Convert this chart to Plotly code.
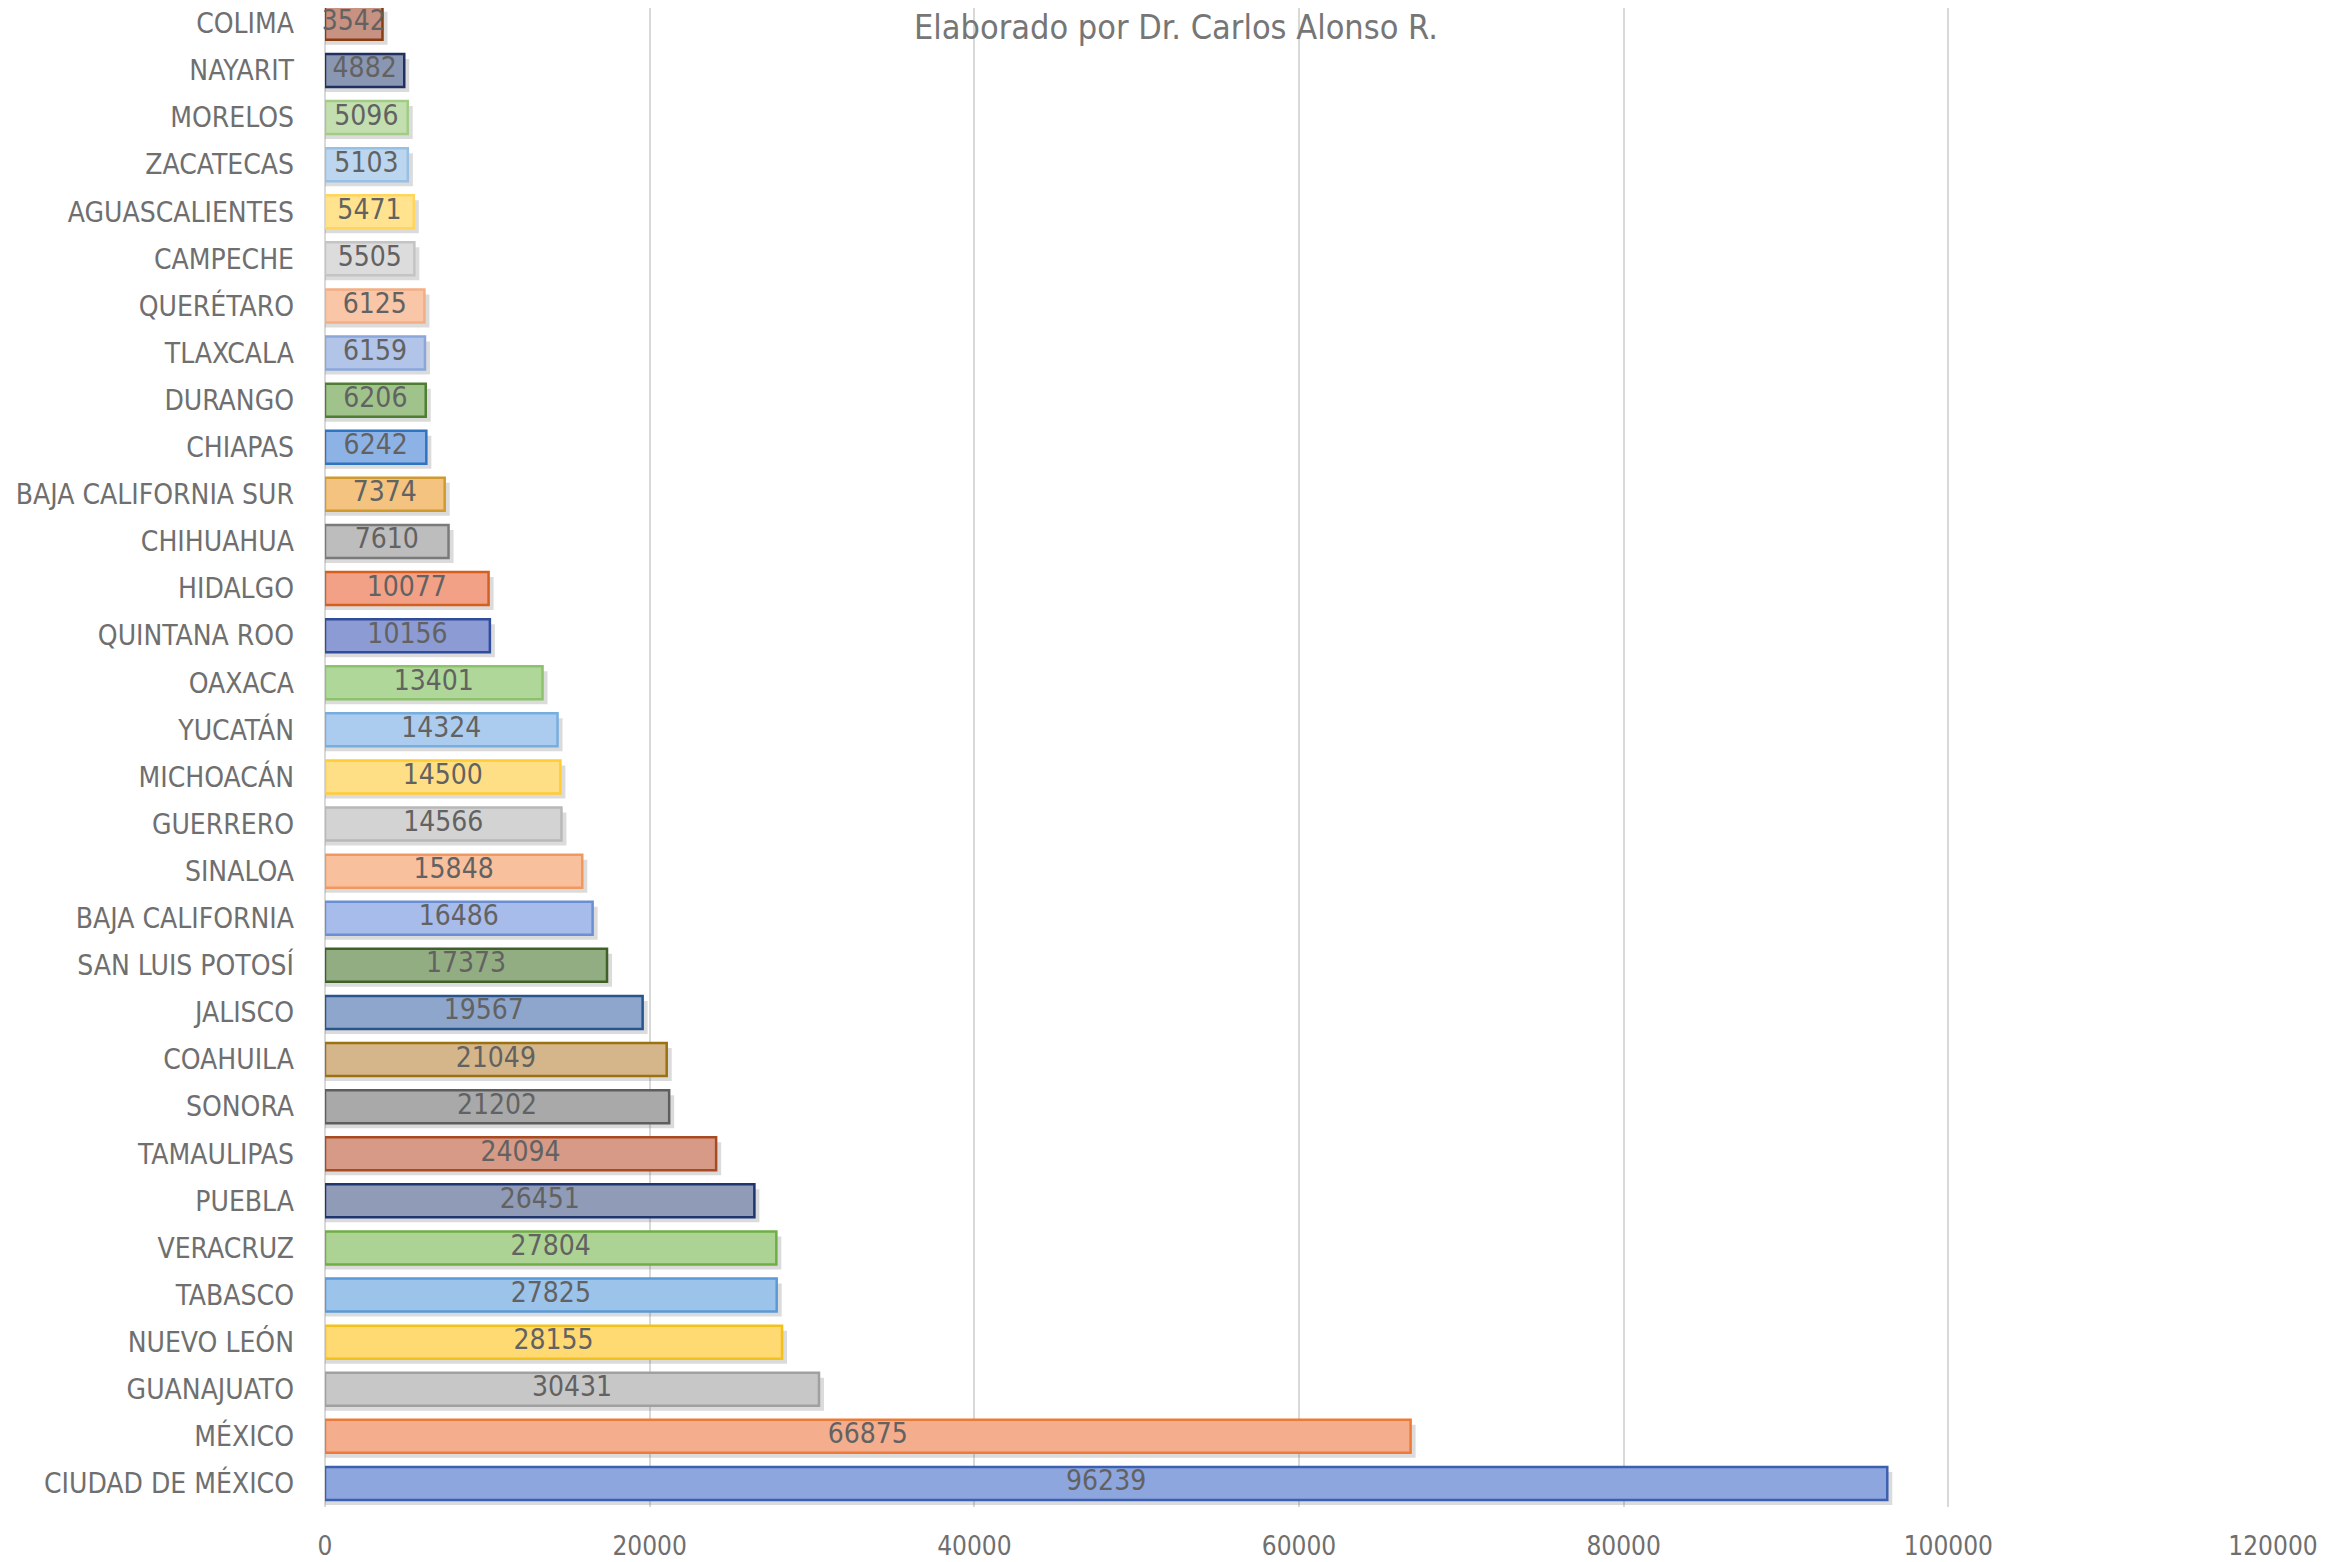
import plotly.graph_objects as go

# Data (top to bottom as in the picture)
states = ["COLIMA", "NAYARIT", "MORELOS", "ZACATECAS", "AGUASCALIENTES", "CAMPECHE",
          "QUERÉTARO", "TLAXCALA", "DURANGO", "CHIAPAS", "BAJA CALIFORNIA SUR", "CHIHUAHUA",
          "HIDALGO", "QUINTANA ROO", "OAXACA", "YUCATÁN", "MICHOACÁN", "GUERRERO",
          "SINALOA", "BAJA CALIFORNIA", "SAN LUIS POTOSÍ", "JALISCO", "COAHUILA", "SONORA",
          "TAMAULIPAS", "PUEBLA", "VERACRUZ", "TABASCO", "NUEVO LEÓN", "GUANAJUATO",
          "MÉXICO", "CIUDAD DE MÉXICO"]
values = [3542, 4882, 5096, 5103, 5471, 5505, 6125, 6159, 6206, 6242, 7374, 7610,
          10077, 10156, 13401, 14324, 14500, 14566, 15848, 16486, 17373, 19567, 21049, 21202,
          24094, 26451, 27804, 27825, 28155, 30431, 66875, 96239]
x_ticks = [0, 20000, 40000, 60000, 80000, 100000, 120000]
title_text = "Elaborado por Dr. Carlos Alonso R."

fills = ["#c79282", "#8a97b3", "#c3dfb0", "#bcd6ef", "#ffe38f", "#dcdcdc",
         "#f9c7a8", "#b2c4e8", "#9fc38b", "#8db3e6", "#f3c37f", "#bdbdbd",
         "#f2a187", "#8c9bd3", "#b0d79a", "#acccef", "#ffdf85", "#d3d3d3",
         "#f9c09e", "#a8bcec", "#93ad83", "#8fa6cc", "#d5b68a", "#a9a9a9",
         "#d69a86", "#8f9bb7", "#acd393", "#9cc3ea", "#ffd972", "#c7c7c7",
         "#f4ae8e", "#8ea6de"]
borders = ["#8a3d12", "#1f3061", "#a2cc85", "#98bfe4", "#ffd55c", "#c4c4c4",
           "#f4ae84", "#8aa6da", "#4f7d33", "#2f74c0", "#d09a2e", "#7a7a7a",
           "#d45f1e", "#2f4d9a", "#8cc36a", "#76aee0", "#ffcc33", "#b8b8b8",
           "#f19760", "#6a8fd2", "#3f6129", "#28558e", "#9a7210", "#5e5e5e",
           "#a84a22", "#1e3570", "#6fae45", "#5a9ad6", "#f2c11c", "#a0a0a0",
           "#ed7a36", "#3d5fb0"]

FONT = "DejaVu Sans Condensed, Roboto, sans-serif"
GRAY = "#6f6f6f"

# the page body adds an 8 px offset at top/left
W, H = 2331, 1554
PLOT_L, PLOT_R, PLOT_B = 317, 66, 55
slot = 47.1
n = len(states)
plot_h = H - PLOT_B
y_top = -0.5 + plot_h / slot
XMAX = 120000
px_x = XMAX / (W - PLOT_L - PLOT_R)   # data units per pixel on x
BAR_W = 0.7

fig = go.Figure()
# soft drop shadow under each bar
fig.add_trace(go.Bar(
    x=[v + 5 * px_x for v in values], y=states, orientation="h",
    width=BAR_W, offset=-BAR_W / 2 - 5 / slot,
    marker=dict(color="rgba(90,90,90,0.22)", line=dict(width=0)),
    hoverinfo="skip", showlegend=False,
))
fig.add_trace(go.Bar(
    x=values, y=states, orientation="h",
    width=BAR_W, offset=-BAR_W / 2,
    marker=dict(color=fills, line=dict(color=borders, width=2.5)),
    hoverinfo="x+y", showlegend=False,
))
fig.add_trace(go.Scatter(
    x=[v / 2 for v in values], y=states, mode="text",
    text=[str(v) for v in values],
    textfont=dict(family=FONT, size=28, color="#626262"),
    cliponaxis=False,
    hoverinfo="skip", showlegend=False,
))

fig.add_annotation(
    text=title_text, xref="paper", yref="paper", x=0.4369, y=1,
    yanchor="middle", yshift=-19, showarrow=False,
    font=dict(family=FONT, size=34, color="#767676"),
)

fig.update_layout(
    width=W, height=H,
    margin=dict(l=PLOT_L, r=PLOT_R, t=0, b=PLOT_B, pad=0),
    paper_bgcolor="white", plot_bgcolor="white",
    barmode="overlay",
    font=dict(family=FONT, color=GRAY),
)
fig.update_xaxes(
    range=[0, XMAX], tickvals=x_ticks, ticktext=[str(t) for t in x_ticks],
    showgrid=True, gridcolor="#d9d9d9", gridwidth=2,
    zeroline=True, zerolinecolor="#d9d9d9", zerolinewidth=2,
    showline=False, ticks="", ticklabelstandoff=21,
    tickfont=dict(family=FONT, size=26, color=GRAY),
)
fig.update_yaxes(
    categoryorder="array", categoryarray=states[::-1],
    showgrid=False, zeroline=False, showline=False, ticks="",
    ticklabelstandoff=30, range=[-0.5, y_top],
    tickfont=dict(family=FONT, size=28, color=GRAY),
)

fig.write_html("out.html")
